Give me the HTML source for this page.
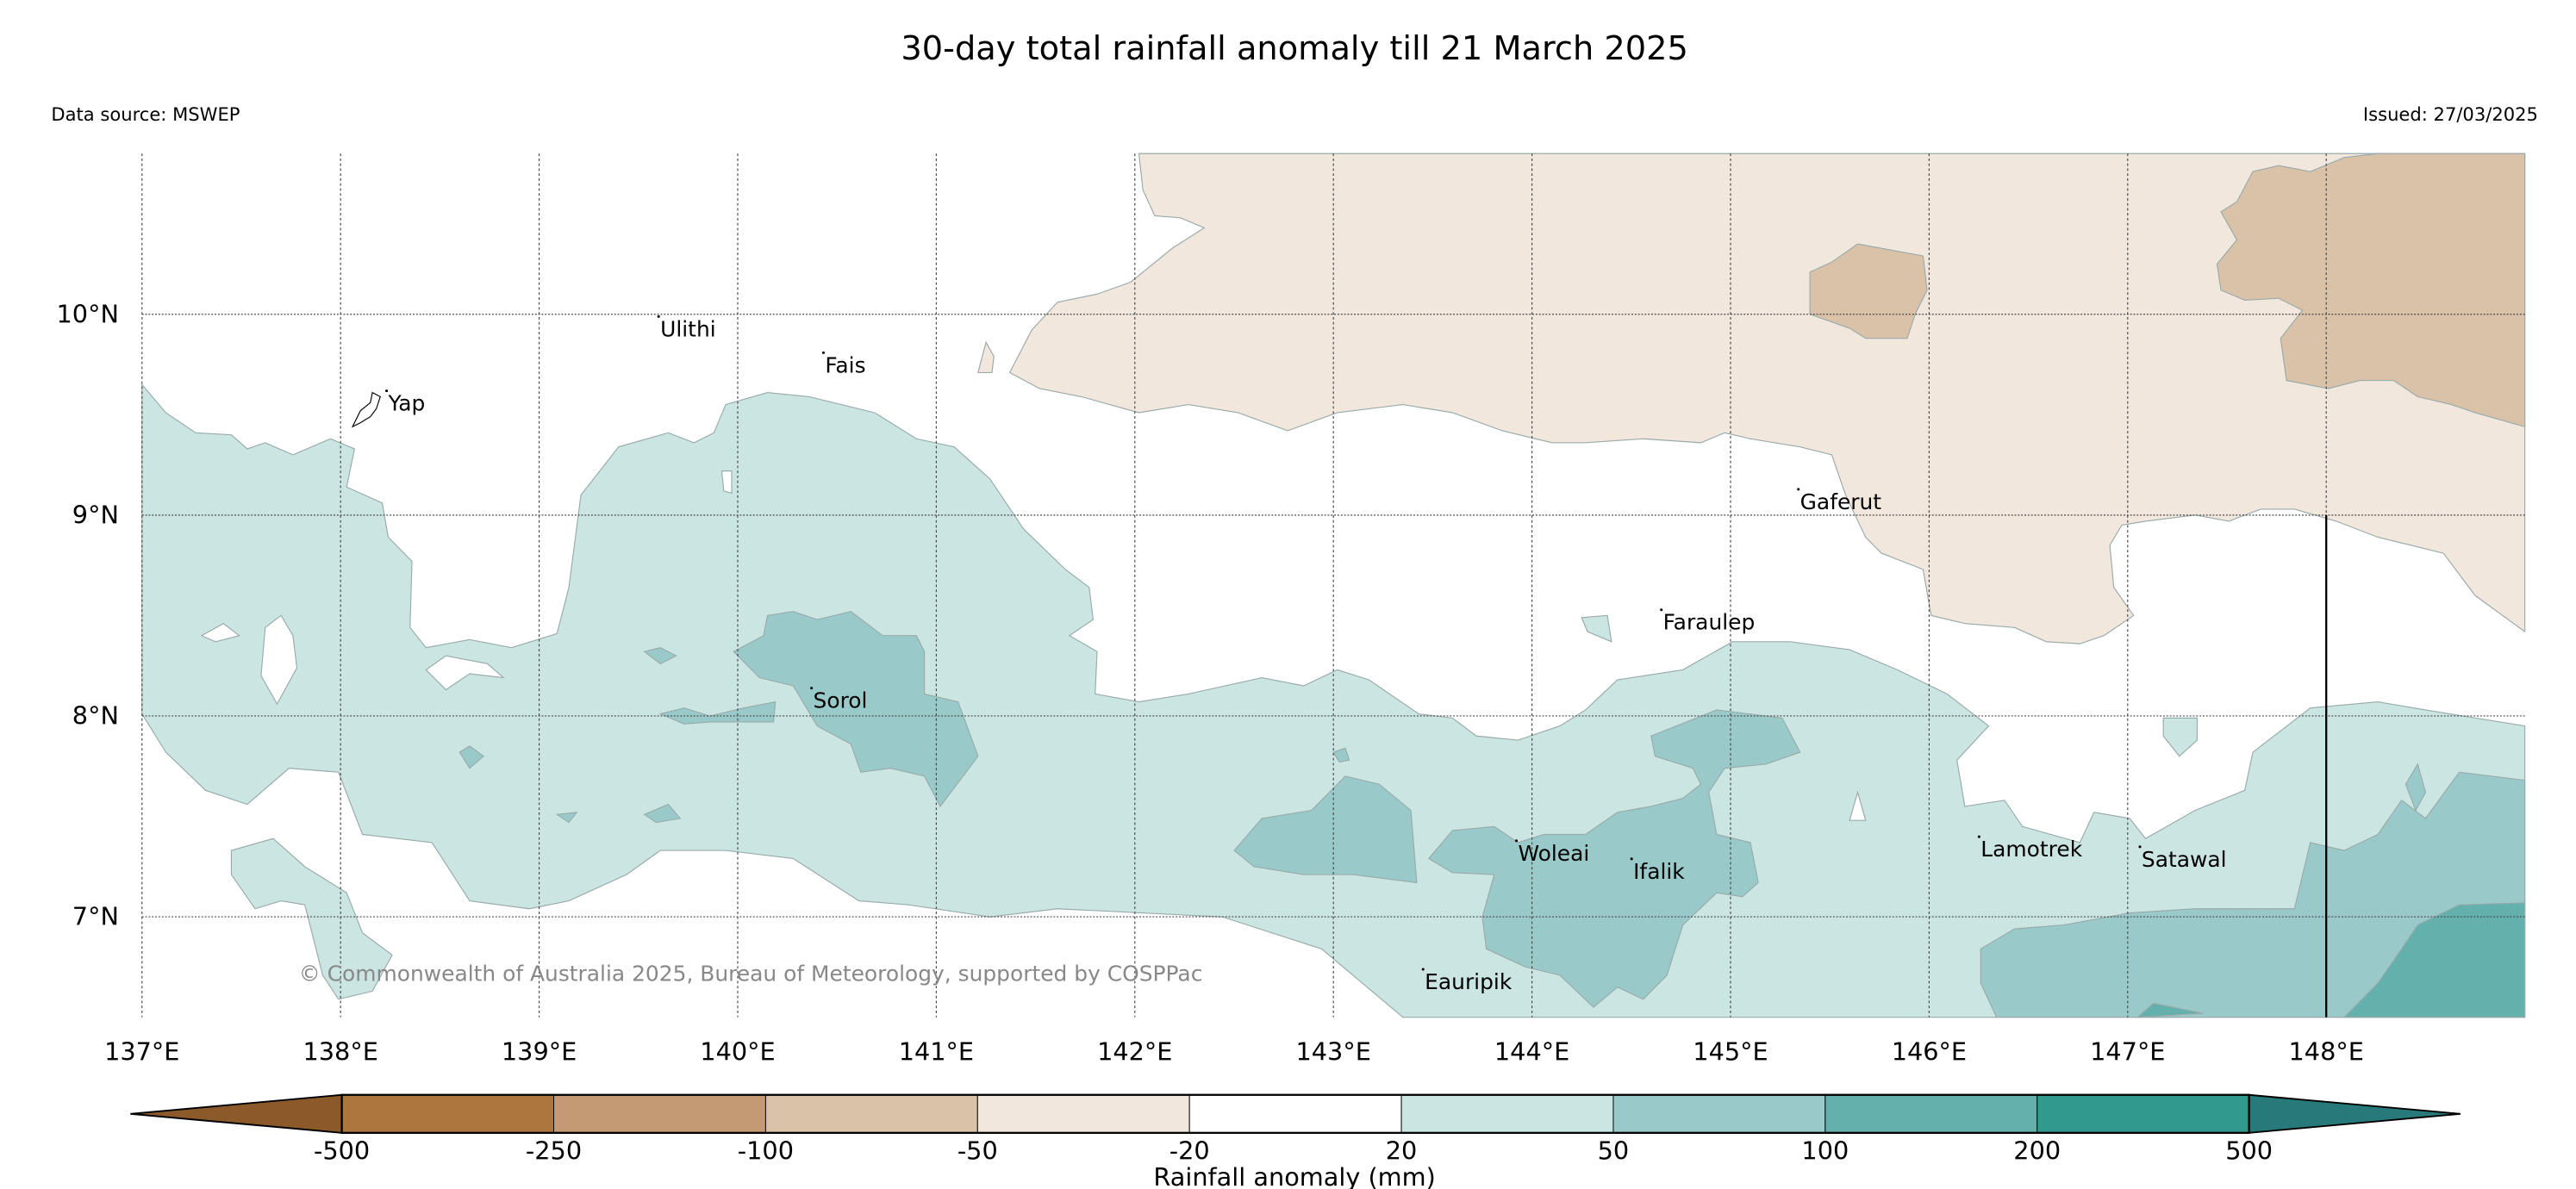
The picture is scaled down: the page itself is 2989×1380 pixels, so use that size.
<!DOCTYPE html>
<html><head><meta charset="utf-8"><style>
html,body{margin:0;padding:0;background:#fff}
svg{display:block;font-family:"DejaVu Sans","Liberation Sans",sans-serif}
</style></head><body>
<svg id="chart" width="2989" height="1380" viewBox="0 0 1560 720" preserveAspectRatio="none" xmlns="http://www.w3.org/2000/svg">
<text x="784" y="36" font-size="20" text-anchor="middle">30-day total rainfall anomaly till 21 March 2025</text>
<text x="31" y="73" font-size="11">Data source: MSWEP</text>
<text x="1537" y="73" font-size="11" text-anchor="end">Issued: 27/03/2025</text>
<g id="map"></g>
<g id="cbar"></g>
</svg>
<script>
const lonTicks=[137,138,139,140,141,142,143,144,145,146,147,148];
const latTicks=[7,8,9,10];
const cbLevels=["-500","-250","-100","-50","-20","20","50","100","200","500"];
const cbColors=["#ad763f","#c39a73","#dac2a9","#f2e7dd","#ffffff","#cbe5e3","#99cac9","#64b0ad","#32998f"];
const light=[[137.00,9.65],[137.12,9.51],[137.27,9.41],[137.45,9.40],[137.53,9.33],[137.62,9.36],[137.76,9.30],[137.95,9.38],[138.07,9.33],[138.03,9.14],[138.21,9.06],[138.24,8.89],[138.36,8.77],[138.35,8.44],[138.43,8.34],[138.65,8.38],[138.86,8.34],[139.09,8.41],[139.15,8.64],[139.21,9.10],[139.40,9.34],[139.65,9.41],[139.78,9.36],[139.88,9.41],[139.94,9.55],[140.15,9.61],[140.36,9.59],[140.69,9.51],[140.90,9.38],[141.09,9.34],[141.27,9.18],[141.44,8.93],[141.65,8.73],[141.77,8.64],[141.79,8.48],[141.67,8.40],[141.81,8.32],[141.80,8.11],[142.02,8.07],[142.27,8.11],[142.64,8.19],[142.85,8.15],[143.02,8.23],[143.18,8.18],[143.43,8.01],[143.60,7.99],[143.72,7.90],[143.93,7.88],[144.14,7.95],[144.27,8.03],[144.43,8.18],[144.76,8.23],[145.01,8.37],[145.30,8.37],[145.60,8.33],[145.84,8.23],[146.09,8.11],[146.30,7.95],[146.14,7.78],[146.18,7.55],[146.38,7.58],[146.47,7.45],[146.76,7.37],[146.83,7.52],[147.01,7.49],[147.09,7.39],[147.34,7.53],[147.59,7.63],[147.63,7.82],[147.92,8.04],[148.26,8.07],[148.50,8.03],[148.75,7.99],[149.00,7.95],[149.00,6.50],[143.35,6.50],[142.94,6.84],[142.44,7.00],[141.61,7.04],[141.27,7.00],[140.86,7.06],[140.61,7.08],[140.28,7.29],[139.94,7.33],[139.61,7.33],[139.44,7.21],[139.15,7.08],[138.95,7.04],[138.65,7.08],[138.46,7.37],[138.11,7.41],[137.99,7.72],[137.74,7.74],[137.53,7.56],[137.32,7.63],[137.12,7.82],[137.00,8.01]];
const light2=[[137.45,7.33],[137.66,7.39],[137.82,7.25],[138.03,7.12],[138.11,6.92],[138.26,6.81],[138.16,6.63],[137.99,6.59],[137.91,6.71],[137.82,7.06],[137.70,7.08],[137.57,7.04],[137.45,7.21]];
const light3=[[147.18,7.99],[147.35,7.99],[147.35,7.88],[147.26,7.80],[147.18,7.90]];
const light4=[[144.25,8.49],[144.38,8.50],[144.40,8.37],[144.28,8.42]];
const hole1=[[137.62,8.44],[137.70,8.50],[137.76,8.40],[137.78,8.24],[137.68,8.06],[137.60,8.20]];
const hole2=[[137.30,8.40],[137.41,8.46],[137.49,8.40],[137.37,8.37]];
const hole3=[[138.43,8.23],[138.53,8.30],[138.74,8.26],[138.82,8.19],[138.65,8.21],[138.53,8.13]];
const hole4=[[139.92,9.22],[139.97,9.22],[139.97,9.11],[139.93,9.12]];
const hole5=[[145.64,7.62],[145.68,7.48],[145.60,7.48]];
const midA=[[139.98,8.32],[140.13,8.40],[140.15,8.50],[140.28,8.52],[140.40,8.48],[140.57,8.52],[140.73,8.40],[140.90,8.40],[140.94,8.32],[140.94,8.11],[141.11,8.07],[141.21,7.80],[141.02,7.55],[140.94,7.70],[140.77,7.74],[140.62,7.72],[140.57,7.86],[140.40,7.95],[140.28,8.15],[140.11,8.19]];
const midB=[[142.50,7.33],[142.64,7.49],[142.89,7.53],[143.06,7.70],[143.23,7.66],[143.39,7.53],[143.42,7.17],[143.10,7.21],[142.85,7.21],[142.60,7.25]];
const midC=[[143.48,7.29],[143.60,7.43],[143.81,7.45],[143.93,7.37],[144.06,7.41],[144.27,7.41],[144.43,7.52],[144.60,7.55],[144.76,7.59],[144.85,7.66],[144.81,7.74],[144.62,7.80],[144.60,7.90],[144.93,8.03],[145.26,7.99],[145.35,7.82],[145.18,7.76],[144.97,7.74],[144.89,7.62],[144.93,7.41],[145.10,7.37],[145.14,7.17],[145.06,7.10],[144.93,7.12],[144.76,6.96],[144.68,6.71],[144.56,6.59],[144.43,6.65],[144.31,6.55],[144.14,6.71],[143.97,6.75],[143.77,6.84],[143.75,7.00],[143.81,7.21],[143.60,7.22]];
const midD=[[146.26,6.84],[146.43,6.94],[146.68,6.96],[147.01,7.02],[147.34,7.04],[147.84,7.04],[147.92,7.37],[148.09,7.33],[148.26,7.41],[148.38,7.58],[148.50,7.49],[148.67,7.72],[149.00,7.68],[149.00,6.50],[146.34,6.50],[146.26,6.67]];
const midE=[[139.53,8.32],[139.61,8.34],[139.69,8.30],[139.61,8.26]];
const midF=[[139.61,8.01],[139.73,8.04],[139.86,8.00],[140.03,8.04],[140.19,8.07],[140.18,7.97],[139.86,7.97],[139.73,7.96]];
const midG=[[138.60,7.82],[138.65,7.85],[138.72,7.80],[138.65,7.74]];
const midH=[[139.09,7.51],[139.19,7.52],[139.15,7.47]];
const midI=[[139.53,7.51],[139.65,7.56],[139.71,7.49],[139.59,7.47]];
const midJ=[[148.40,7.66],[148.46,7.76],[148.50,7.62],[148.45,7.53]];
const midK=[[143.00,7.82],[143.06,7.84],[143.08,7.78],[143.03,7.77]];
const darkA=[[148.09,6.50],[148.26,6.67],[148.38,6.84],[148.46,6.96],[148.67,7.06],[149.00,7.07],[149.00,6.50]];
const darkB=[[147.05,6.50],[147.13,6.57],[147.38,6.52]];
const dry1=[[142.02,10.80],[149,10.80],[149,8.42],[148.75,8.60],[148.59,8.81],[148.26,8.89],[148.05,8.97],[147.84,9.03],[147.67,9.03],[147.51,8.97],[147.34,9.00],[147.09,8.97],[146.97,8.95],[146.91,8.85],[146.93,8.64],[147.03,8.50],[146.88,8.40],[146.76,8.36],[146.59,8.37],[146.43,8.44],[146.18,8.46],[146.01,8.50],[145.97,8.73],[145.76,8.81],[145.68,8.89],[145.58,9.10],[145.51,9.30],[145.35,9.34],[145.10,9.38],[144.97,9.41],[144.85,9.36],[144.56,9.38],[144.27,9.36],[144.10,9.36],[143.85,9.42],[143.60,9.51],[143.35,9.55],[143.02,9.51],[142.77,9.42],[142.52,9.51],[142.27,9.55],[142.02,9.51],[141.73,9.59],[141.52,9.63],[141.37,9.71],[141.48,9.92],[141.61,10.06],[141.81,10.10],[141.98,10.16],[142.19,10.33],[142.35,10.43],[142.23,10.48],[142.10,10.49],[142.04,10.62]];
const dry2=[[141.21,9.71],[141.25,9.86],[141.29,9.79],[141.28,9.71]];
const dryA=[[145.40,10.21],[145.51,10.26],[145.64,10.35],[145.97,10.29],[145.99,10.12],[145.93,10.00],[145.89,9.88],[145.68,9.88],[145.60,9.93],[145.40,10.00]];
const dryB=[[147.47,10.51],[147.55,10.56],[147.63,10.71],[147.76,10.74],[147.92,10.71],[148.09,10.78],[148.26,10.80],[149,10.80],[149,9.44],[148.75,9.51],[148.63,9.55],[148.46,9.59],[148.34,9.67],[148.17,9.67],[148.01,9.63],[147.80,9.67],[147.77,9.88],[147.88,10.02],[147.76,10.08],[147.59,10.07],[147.47,10.12],[147.45,10.25],[147.55,10.37]];
const yap=[[138.06,9.44],[138.10,9.52],[138.15,9.56],[138.16,9.61],[138.20,9.59],[138.18,9.53],[138.15,9.49],[138.10,9.46]];
const placeNames=["Ulithi","Fais","Yap","Sorol","Gaferut","Faraulep","Woleai","Ifalik","Lamotrek","Satawal","Eauripik"];
const placeLon=[139.61,140.44,138.24,140.38,145.35,144.66,143.93,144.51,146.26,147.07,143.46];
const placeLat=[9.89,9.71,9.52,8.04,9.03,8.43,7.28,7.19,7.30,7.25,6.64];

const L=86,R=1529,T=93,B=616,lon0=137,lon1=149,lat0=6.5,lat1=10.8;
const NS="http://www.w3.org/2000/svg";
function xS(lon){return L+(lon-lon0)/(lon1-lon0)*(R-L);}
function yS(lat){return B-(lat-lat0)/(lat1-lat0)*(B-T);}
function mk(tag,attrs,parent){const e=document.createElementNS(NS,tag);for(const k in attrs)e.setAttribute(k,attrs[k]);parent.appendChild(e);return e;}
const map=document.getElementById('map');
function poly(pts,fill,name,stroke){
  const p=mk('polygon',{points:pts.map(q=>xS(q[0]).toFixed(1)+','+yS(q[1]).toFixed(1)).join(' '),fill:fill,stroke:stroke||'#9aa',"stroke-width":0.6},map);
  
  
}
poly(dry1,"#f2e7dd","contour-dry-light");
poly(dry2,"#f2e7dd","contour-dry-light-small");
poly(dryA,"#dac2a9","contour-dry-mid-a");
poly(dryB,"#dac2a9","contour-dry-mid-b");
poly(light,"#cbe5e3","contour-wet-light");
poly(light2,"#cbe5e3","contour-wet-light-sw");
poly(light3,"#cbe5e3","contour-wet-light-islet");
poly(light4,"#cbe5e3","contour-wet-light-islet2");
[hole1,hole2,hole3,hole4,hole5].forEach(h=>poly(h,"#ffffff","contour-hole"));
[midA,midB,midC,midD,midE,midF,midG,midH,midI,midJ,midK].forEach(m=>poly(m,"#99cac9","contour-wet-mid"));
poly(darkA,"#64b0ad","contour-wet-high");
poly(darkB,"#64b0ad","contour-wet-high-small");
// gridlines
lonTicks.forEach(lon=>{
  const g=mk('line',{x1:xS(lon),x2:xS(lon),y1:T,y2:B,stroke:"#444","stroke-width":0.6,"stroke-dasharray":"1.5,1.5"},map);
  
  
  const t=mk('text',{x:xS(lon),y:642,"font-size":15,"text-anchor":"middle"},map);
  t.textContent=lon+"°E";
  
  
});
latTicks.forEach(lat=>{
  const g=mk('line',{x1:L,x2:R,y1:yS(lat),y2:yS(lat),stroke:"#444","stroke-width":0.6,"stroke-dasharray":"1,1"},map);
  
  
  const t=mk('text',{x:72,y:yS(lat)+5,"font-size":15,"text-anchor":"end"},map);
  t.textContent=lat+"°N";
  
  
});
const vl=mk('line',{x1:xS(148),x2:xS(148),y1:yS(9),y2:B,stroke:"#000","stroke-width":1.2},map);


poly(yap,"#ffffff","yap-island","#000");
placeNames.forEach((n,i)=>{
  const d=mk('circle',{cx:xS(placeLon[i])-1,cy:yS(placeLat[i])-12,r:0.8,fill:"#000"},map);
  
  
  const t=mk('text',{x:xS(placeLon[i]),y:yS(placeLat[i]),"font-size":13},map);
  t.textContent=n;
  
  
});
const cp=mk('text',{x:181,y:594,"font-size":13,fill:"#888"},map);
cp.textContent="© Commonwealth of Australia 2025, Bureau of Meteorology, supported by COSPPac";


// colorbar
const cb=document.getElementById('cbar');
const c0=207,c1=1362,cy0=663,cy1=686,cw=(c1-c0)/cbColors.length;
const lt=mk('polygon',{points:`${c0},${cy0} 79,${(cy0+cy1)/2} ${c0},${cy1}`,fill:"#8c5a2a",stroke:"#000","stroke-width":1},cb);


const rt=mk('polygon',{points:`${c1},${cy0} 1490,${(cy0+cy1)/2} ${c1},${cy1}`,fill:"#27797a",stroke:"#000","stroke-width":1},cb);


cbColors.forEach((c,i)=>{
  const r=mk('rect',{x:c0+i*cw,y:cy0,width:cw,height:cy1-cy0,fill:c,stroke:"#000","stroke-width":0.5},cb);
  
  
});
mk('rect',{x:c0,y:cy0,width:c1-c0,height:cy1-cy0,fill:"none",stroke:"#000","stroke-width":1.2},cb);
cbLevels.forEach((s,i)=>{
  const t=mk('text',{x:c0+i*cw,y:702,"font-size":15,"text-anchor":"middle"},cb);
  t.textContent=s;
  
  
});
const ct=mk('text',{x:784,y:718,"font-size":15,"text-anchor":"middle"},cb);
ct.textContent="Rainfall anomaly (mm)";


</script>
</body></html>
